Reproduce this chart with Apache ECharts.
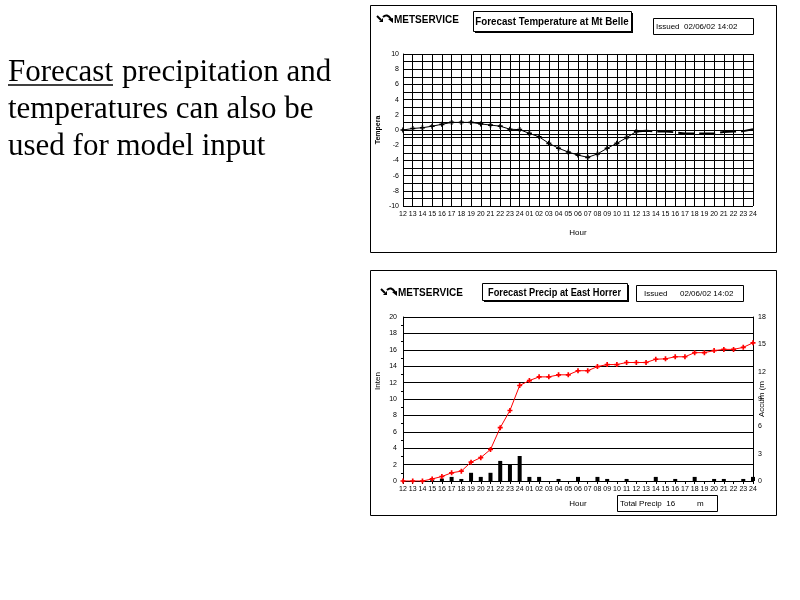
<!DOCTYPE html>
<html><head><meta charset="utf-8">
<script src="https://cdn.jsdelivr.net/npm/echarts@6/dist/echarts.min.js"></script>
<style>html,body{margin:0;padding:0;background:#fff}#c{width:800px;height:600px}</style>
</head><body><div id="c"></div>
<script>
const hours = ['12','13','14','15','16','17','18','19','20','21','22','23','24','01','02','03','04','05','06','07','08','09','10','11','12','13','14','15','16','17','18','19','20','21','22','23','24'];
const temperature = [0.0,0.2,0.3,0.5,0.75,1.0,1.0,1.0,0.8,0.65,0.5,0.1,0.05,-0.45,-0.9,-1.75,-2.4,-2.9,-3.3,-3.6,-3.15,-2.4,-1.75,-1.0,-0.2,-0.1,-0.2,-0.2,-0.3,-0.45,-0.45,-0.45,-0.45,-0.25,-0.2,-0.15,0.1];
const precipIntensity = [0,0,0,0.1,0.3,0.5,0.25,1.0,0.5,1.0,2.45,2.0,3.05,0.5,0.5,0,0.25,0,0.5,0,0.5,0.25,0,0.25,0,0,0.5,0,0.25,0,0.5,0,0.25,0.25,0,0.25,0.5];
const precipAccum = [0,0,0,0.25,0.55,1.0,1.2,2.3,2.85,3.85,6.5,8.6,11.65,12.25,12.7,12.7,12.95,12.95,13.45,13.45,13.95,14.2,14.2,14.45,14.45,14.45,14.85,14.9,15.15,15.15,15.65,15.65,15.9,16.05,16.05,16.3,16.85];
const forecastSplit = 24;
const textLines = ['precipitation and','temperatures can also be','used for model input'];

const plus = 'path://M-1,-3H1V-1H3V1H1V3H-1V1H-3V-1H-1Z';
const FF = "'Liberation Sans', Arial, sans-serif";
const tickFont = {fontSize: 7, color: '#000', fontFamily: FF};

function logo(x, y) {
  return [
    {type:'line', shape:{x1:x, y1:y-4, x2:x+4, y2:y}, style:{stroke:'#000', lineWidth:2}},
    {type:'polygon', shape:{points:[[x+2,y+2],[x+6,y+2],[x+6,y-2]]}, style:{fill:'#000'}},
    {type:'bezierCurve', shape:{x1:x+6, y1:y-3, cpx1:x+10, cpy1:y-7, x2:x+14, y2:y-1}, style:{stroke:'#000', lineWidth:2, fill:null}},
    {type:'polygon', shape:{points:[[x+11,y-1],[x+16,y+3],[x+16,y-2]]}, style:{fill:'#000'}},
    {type:'text', x:x+17, y:y, style:{text:'METSERVICE', font:`bold 10px ${FF}`, fill:'#000', verticalAlign:'middle', align:'left'}}
  ];
}
function titleBox(x, y, w, h, text, width) {
  return [
    {type:'rect', shape:{x:x+2, y:y+2, width:w, height:h}, style:{fill:'#000'}},
    {type:'rect', shape:{x:x+0.5, y:y+0.5, width:w, height:h}, style:{fill:'#fff', stroke:'#000', lineWidth:1}},
    {type:'text', x:x+w/2, y:y+h/2+1, scaleX: width, style:{text:text, font:`bold 11px ${FF}`, fill:'#000', align:'center', verticalAlign:'middle'}}
  ];
}
function plainBox(x, y, w, h) {
  return {type:'rect', shape:{x:x+0.5, y:y+0.5, width:w, height:h}, style:{fill:'#fff', stroke:'#000', lineWidth:1}};
}
function label(x, y, t, size) {
  return {type:'text', x:x, y:y, style:{text:t, font:`${size||8}px ${FF}`, fill:'#000', align:'left', verticalAlign:'middle'}};
}

const serif = "'Liberation Serif', 'Times New Roman', serif";
const graphic = [
  {type:'text', x:8, y:73, style:{text:'Forecast', font:`31px ${serif}`, fill:'#000', verticalAlign:'middle'}},
  {type:'line', shape:{x1:8, y1:85, x2:113, y2:85}, style:{stroke:'#000', lineWidth:1.5}},
  {type:'text', x:122, y:73, style:{text:textLines[0], font:`31px ${serif}`, fill:'#000', verticalAlign:'middle'}},
  {type:'text', x:8, y:110, style:{text:textLines[1], font:`31px ${serif}`, fill:'#000', verticalAlign:'middle'}},
  {type:'text', x:8, y:146.5, style:{text:textLines[2], font:`31px ${serif}`, fill:'#000', verticalAlign:'middle'}},
  {type:'rect', shape:{x:370.5, y:5.5, width:406, height:247}, style:{fill:null, stroke:'#000', lineWidth:1}},
  {type:'rect', shape:{x:370.5, y:270.5, width:406, height:245}, style:{fill:null, stroke:'#000', lineWidth:1}},
  ...logo(377, 20),
  ...logo(381, 293),
  ...titleBox(473, 11, 158, 20, 'Forecast Temperature at Mt Belle', 0.887),
  ...titleBox(482, 283, 145, 17, 'Forecast Precip at East Horrer', 0.84),
  plainBox(653, 18, 100, 16), label(656, 26.5, 'Issued  02/06/02 14:02', 8),
  plainBox(636, 285, 107, 16), label(644, 293.5, 'Issued', 8), label(680, 293.5, '02/06/02 14:02', 8),
  plainBox(617, 495, 100, 16), label(620, 503.5, 'Total Precip  16', 8), label(697, 503.5, 'm', 8)
];

const option = {
  animation: false,
  backgroundColor: '#fff',
  graphic: graphic,
  grid: [
    {left: 403, top: 54, width: 350, height: 152},
    {left: 403, top: 317, width: 350, height: 164}
  ],
  xAxis: [
    {gridIndex:0, type:'category', data:hours, boundaryGap:false,
     name:'Hour', nameLocation:'middle', nameGap:23, nameMoveOverlap:false, nameTextStyle:{fontSize:8, fontFamily:FF, color:'#000'},
     axisLine:{lineStyle:{color:'#000'}}, axisTick:{show:false},
     axisLabel:{...tickFont, interval:0, margin:5},
     splitLine:{show:true, interval:0, lineStyle:{color:'#000', width:1}}},
    {gridIndex:1, type:'category', data:hours, boundaryGap:false,
     name:'Hour', nameLocation:'middle', nameGap:19, nameMoveOverlap:false, nameTextStyle:{fontSize:8, fontFamily:FF, color:'#000'},
     axisLine:{lineStyle:{color:'#000'}}, axisTick:{show:true, interval:0, length:3, lineStyle:{color:'#000'}},
     axisLabel:{...tickFont, interval:0, margin:5},
     splitLine:{show:false}}
  ],
  yAxis: [
    {gridIndex:0, type:'value', min:-10, max:10, interval:1,
     name:'Tempera', nameLocation:'middle', nameGap:21, nameRotate:90, nameMoveOverlap:false, nameTextStyle:{fontSize:7, fontFamily:FF, color:'#000', fontWeight:'bold'},
     axisLine:{show:true, lineStyle:{color:'#000'}}, axisTick:{show:false},
     axisLabel:{...tickFont, margin:4, formatter: v => (v % 2 === 0 ? String(v) : '')},
     splitLine:{show:true, lineStyle:{color:'#000', width:1}}},
    {gridIndex:1, type:'value', min:0, max:20, interval:2,
     name:'Inten', nameLocation:'middle', nameGap:21, nameRotate:90, nameMoveOverlap:false, nameTextStyle:{fontSize:8, fontFamily:FF, color:'#000', padding:[0,0,0,36]},
     axisLine:{show:true, lineStyle:{color:'#000'}}, axisTick:{show:false},
     minorTick:{show:true, splitNumber:2, length:2, lineStyle:{color:'#000'}},
     axisLabel:{...tickFont, margin:6},
     splitLine:{show:true, lineStyle:{color:'#000', width:1}}},
    {gridIndex:1, type:'value', position:'right', min:0, max:18, interval:3,
     name:'Accum (m', nameLocation:'middle', nameGap:5, nameRotate:90, nameMoveOverlap:false, nameTextStyle:{fontSize:8, fontFamily:FF, color:'#000'},
     axisLine:{show:true, lineStyle:{color:'#000'}}, axisTick:{show:false},
     axisLabel:{...tickFont, margin:5},
     splitLine:{show:false}}
  ],
  series: [
    {type:'line', xAxisIndex:0, yAxisIndex:0,
     data: temperature.map((v,i) => i <= forecastSplit ? v : null),
     symbol: plus, symbolSize: 5, showAllSymbol:true,
     itemStyle:{color:'#000'}, lineStyle:{color:'#000', width:1},
     markLine:{silent:true, symbol:'none', label:{show:false}, lineStyle:{color:'#000', type:'solid', width:1}, data:[{yAxis:-0.5}]}},
    {type:'line', xAxisIndex:0, yAxisIndex:0,
     data: temperature.map((v,i) => i >= forecastSplit ? v : null),
     symbol:'none', lineStyle:{color:'#000', width:2, type:[16,5]}},
    {type:'bar', xAxisIndex:1, yAxisIndex:1, data: precipIntensity, barWidth:4, itemStyle:{color:'#000'}},
    {type:'line', xAxisIndex:1, yAxisIndex:1, data: precipAccum,
     symbol: plus, symbolSize: 5, showAllSymbol:true,
     itemStyle:{color:'#ff0000'}, lineStyle:{color:'#ff0000', width:1}}
  ]
};
const chart = echarts.init(document.getElementById('c'));
chart.setOption(option);
</script></body></html>
